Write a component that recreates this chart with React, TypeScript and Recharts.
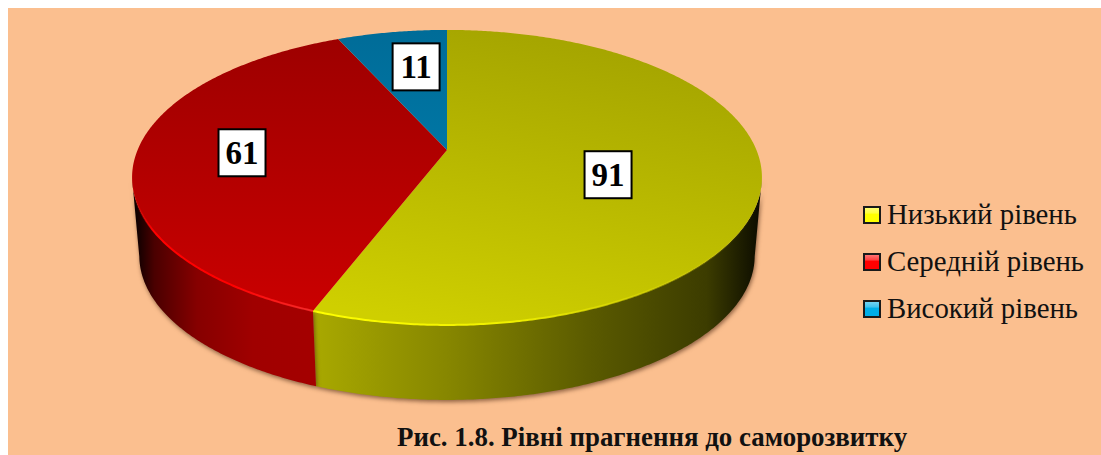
import { PieChart, Pie, Legend } from 'recharts'

const categories = ['Низький рівень', 'Середній рівень', 'Високий рівень']
const values = [91, 61, 11]
const title = 'Рис. 1.8. Рівні прагнення до саморозвитку'

const legendColors = ['#ffff00', '#ff0000', '#00aee8']
const topGradients = ['topYellow', 'topRed', 'topBlue']
const wallGradients = ['wallYellow', 'wallRed', 'wallBlue']
const rimGradients = ['rimYellow', 'rimRed', 'rimBlue']

// where each label sits: fraction of the radius, then a small nudge
const labelRadius = [0.52, 0.67, 0.67]
const labelNudge = [[0, 11], [3, 0], [8, 0]]

const data = categories.map((name, i) => ({ name, value: values[i] }))

const WIDTH = 1093
const HEIGHT = 447
const BOX = 47

// tilted disc: a circle seen in perspective, so the apex is not the ellipse centre
const TILT = 0.186
const STRETCH_X = 2.173
const WALL_SCALE = 0.977
const WALL_DROP = 79

function project(cx: number, cy: number, radius: number, angle: number, fraction = 1) {
  const rad = (angle * Math.PI) / 180
  const u = Math.cos(rad) * fraction
  const v = Math.sin(rad) * fraction
  const w = 1 + TILT * v
  return { x: cx + (radius * STRETCH_X * u) / w, y: cy - (radius * v) / w, v }
}

function arcPoints(cx: number, cy: number, radius: number, start: number, end: number) {
  const steps = Math.max(2, Math.ceil(Math.abs(end - start) * 2))
  const points = []
  for (let i = 0; i <= steps; i++) {
    points.push(project(cx, cy, radius, start + ((end - start) * i) / steps))
  }
  return points
}

type Pt = { x: number; y: number }
const toPath = (points: Pt[]) => points.map((p, i) => `${i ? 'L' : 'M'}${p.x.toFixed(2)},${p.y.toFixed(2)}`).join(' ')

function DiscSlice(props: any) {
  const { cx, cy, outerRadius, startAngle, endAngle, index } = props
  const arc = arcPoints(cx, cy, outerRadius, startAngle, endAngle)
  const front = arc.filter((p) => p.v <= -TILT)
  const lower = front
    .map((p) => ({ x: cx + (p.x - cx) * WALL_SCALE, y: cy + (p.y - cy) * WALL_SCALE + WALL_DROP }))
    .reverse()
  return (
    <g>
      {front.length > 1 && (
        <path
          d={`${toPath([...front, ...lower])} Z`}
          fill={`url(#${wallGradients[index]})`}
          style={{ filter: 'drop-shadow(1px 2px 2px rgba(70,35,15,0.6))' }}
        />
      )}
      <path d={`${toPath([{ x: cx, y: cy }, ...arc])} Z`} fill={`url(#${topGradients[index]})`} />
      {front.length > 1 && <path d={toPath(front)} fill="none" stroke={`url(#${rimGradients[index]})`} strokeWidth={2} />}
    </g>
  )
}

function ValueLabel(props: any) {
  const { cx, cy, outerRadius, midAngle, value, index } = props
  const p = project(cx, cy, outerRadius, midAngle, labelRadius[index])
  const x = p.x + labelNudge[index][0]
  const y = p.y + labelNudge[index][1]
  return (
    <g>
      <rect x={x - BOX / 2} y={y - BOX / 2} width={BOX} height={BOX} fill="#ffffff" stroke="#000000" strokeWidth={2} />
      <text
        x={x}
        y={y + 11}
        textAnchor="middle"
        fontFamily="'Liberation Serif', serif"
        fontWeight="bold"
        fontSize={33}
        fill="#000000"
      >
        {value}
      </text>
    </g>
  )
}

function BevelLegend() {
  return (
    <div>
      {categories.map((name, i) => (
        <div key={name} style={{ display: 'flex', alignItems: 'center', height: 47 }}>
          <span
            style={{
              display: 'block',
              boxSizing: 'border-box',
              width: 18,
              height: 18,
              marginRight: 6,
              border: '2px solid #1a1a1a',
              background: `linear-gradient(rgba(255,255,255,0.45) 0%, rgba(255,255,255,0.25) 35%, rgba(0,0,0,0) 45%), ${legendColors[i]}`,
            }}
          />
          <span style={{ fontFamily: "'Liberation Serif', serif", fontSize: 28.8, color: '#111111', whiteSpace: 'nowrap' }}>
            {name}
          </span>
        </div>
      ))}
    </div>
  )
}

export default function App() {
  return (
    <div style={{ position: 'absolute', left: 8, top: 8, width: WIDTH, height: HEIGHT, background: '#fbbf8f', overflow: 'hidden' }}>
      <PieChart width={WIDTH} height={HEIGHT} margin={{ top: 0, right: 0, bottom: 0, left: 0 }}>
        <defs>
          <linearGradient id="topYellow" gradientUnits="userSpaceOnUse" x1={480} y1={22} x2={420} y2={317}>
            <stop offset="0%" stopColor="#a6a600" />
            <stop offset="100%" stopColor="#cfcf00" />
          </linearGradient>
          <linearGradient id="topRed" gradientUnits="userSpaceOnUse" x1={0} y1={22} x2={0} y2={317}>
            <stop offset="0%" stopColor="#9c0000" />
            <stop offset="100%" stopColor="#cc0000" />
          </linearGradient>
          <linearGradient id="topBlue" gradientUnits="userSpaceOnUse" x1={0} y1={22} x2={0} y2={142}>
            <stop offset="0%" stopColor="#006c98" />
            <stop offset="100%" stopColor="#0076a4" />
          </linearGradient>
          <linearGradient id="wallRed" gradientUnits="userSpaceOnUse" x1={124} y1={0} x2={310} y2={0}>
            <stop offset="0%" stopColor="#000000" />
            <stop offset="12%" stopColor="#4a0000" />
            <stop offset="35%" stopColor="#860000" />
            <stop offset="65%" stopColor="#a00000" />
            <stop offset="100%" stopColor="#a40000" />
          </linearGradient>
          <linearGradient id="wallYellow" gradientUnits="userSpaceOnUse" x1={308} y1={0} x2={752} y2={0}>
            <stop offset="0%" stopColor="#a8a800" />
            <stop offset="30%" stopColor="#868600" />
            <stop offset="62%" stopColor="#5a5a00" />
            <stop offset="88%" stopColor="#3c3c00" />
            <stop offset="100%" stopColor="#0c0c00" />
          </linearGradient>
          <linearGradient id="wallBlue" gradientUnits="userSpaceOnUse" x1={0} y1={0} x2={0} y2={1}>
            <stop offset="0%" stopColor="#004c6c" />
            <stop offset="100%" stopColor="#004c6c" />
          </linearGradient>
          <linearGradient id="rimRed" gradientUnits="userSpaceOnUse" x1={124} y1={0} x2={306} y2={0}>
            <stop offset="0%" stopColor="#ff0000" stopOpacity={0} />
            <stop offset="12%" stopColor="#ff0000" stopOpacity={1} />
            <stop offset="55%" stopColor="#ff0000" stopOpacity={1} />
            <stop offset="100%" stopColor="#ff3030" stopOpacity={0.8} />
          </linearGradient>
          <linearGradient id="rimYellow" gradientUnits="userSpaceOnUse" x1={306} y1={0} x2={754} y2={0}>
            <stop offset="0%" stopColor="#ffff00" stopOpacity={1} />
            <stop offset="45%" stopColor="#eeee00" stopOpacity={1} />
            <stop offset="75%" stopColor="#dddd00" stopOpacity={0.6} />
            <stop offset="100%" stopColor="#cccc00" stopOpacity={0} />
          </linearGradient>
          <linearGradient id="rimBlue" gradientUnits="userSpaceOnUse" x1={0} y1={0} x2={1} y2={0}>
            <stop offset="0%" stopColor="#0088bb" />
            <stop offset="100%" stopColor="#0088bb" />
          </linearGradient>
        </defs>
        <Pie
          data={data}
          dataKey="value"
          nameKey="name"
          cx={439}
          cy={142}
          outerRadius={142.4}
          startAngle={90}
          endAngle={-270}
          stroke="none"
          paddingAngle={0}
          shape={DiscSlice}
          label={ValueLabel}
          labelLine={false}
          isAnimationActive={false}
        />
        <Legend
          content={BevelLegend}
          layout="vertical"
          wrapperStyle={{ position: 'absolute', left: 855, top: 183, width: 236, bottom: 'auto', right: 'auto' }}
        />
      </PieChart>
      <div
        style={{
          position: 'absolute',
          left: 389,
          top: 414,
          fontFamily: "'Liberation Serif', serif",
          fontWeight: 'bold',
          fontSize: 26.9,
          lineHeight: '30px',
          color: '#111111',
          whiteSpace: 'nowrap',
        }}
      >
        {title}
      </div>
    </div>
  )
}
